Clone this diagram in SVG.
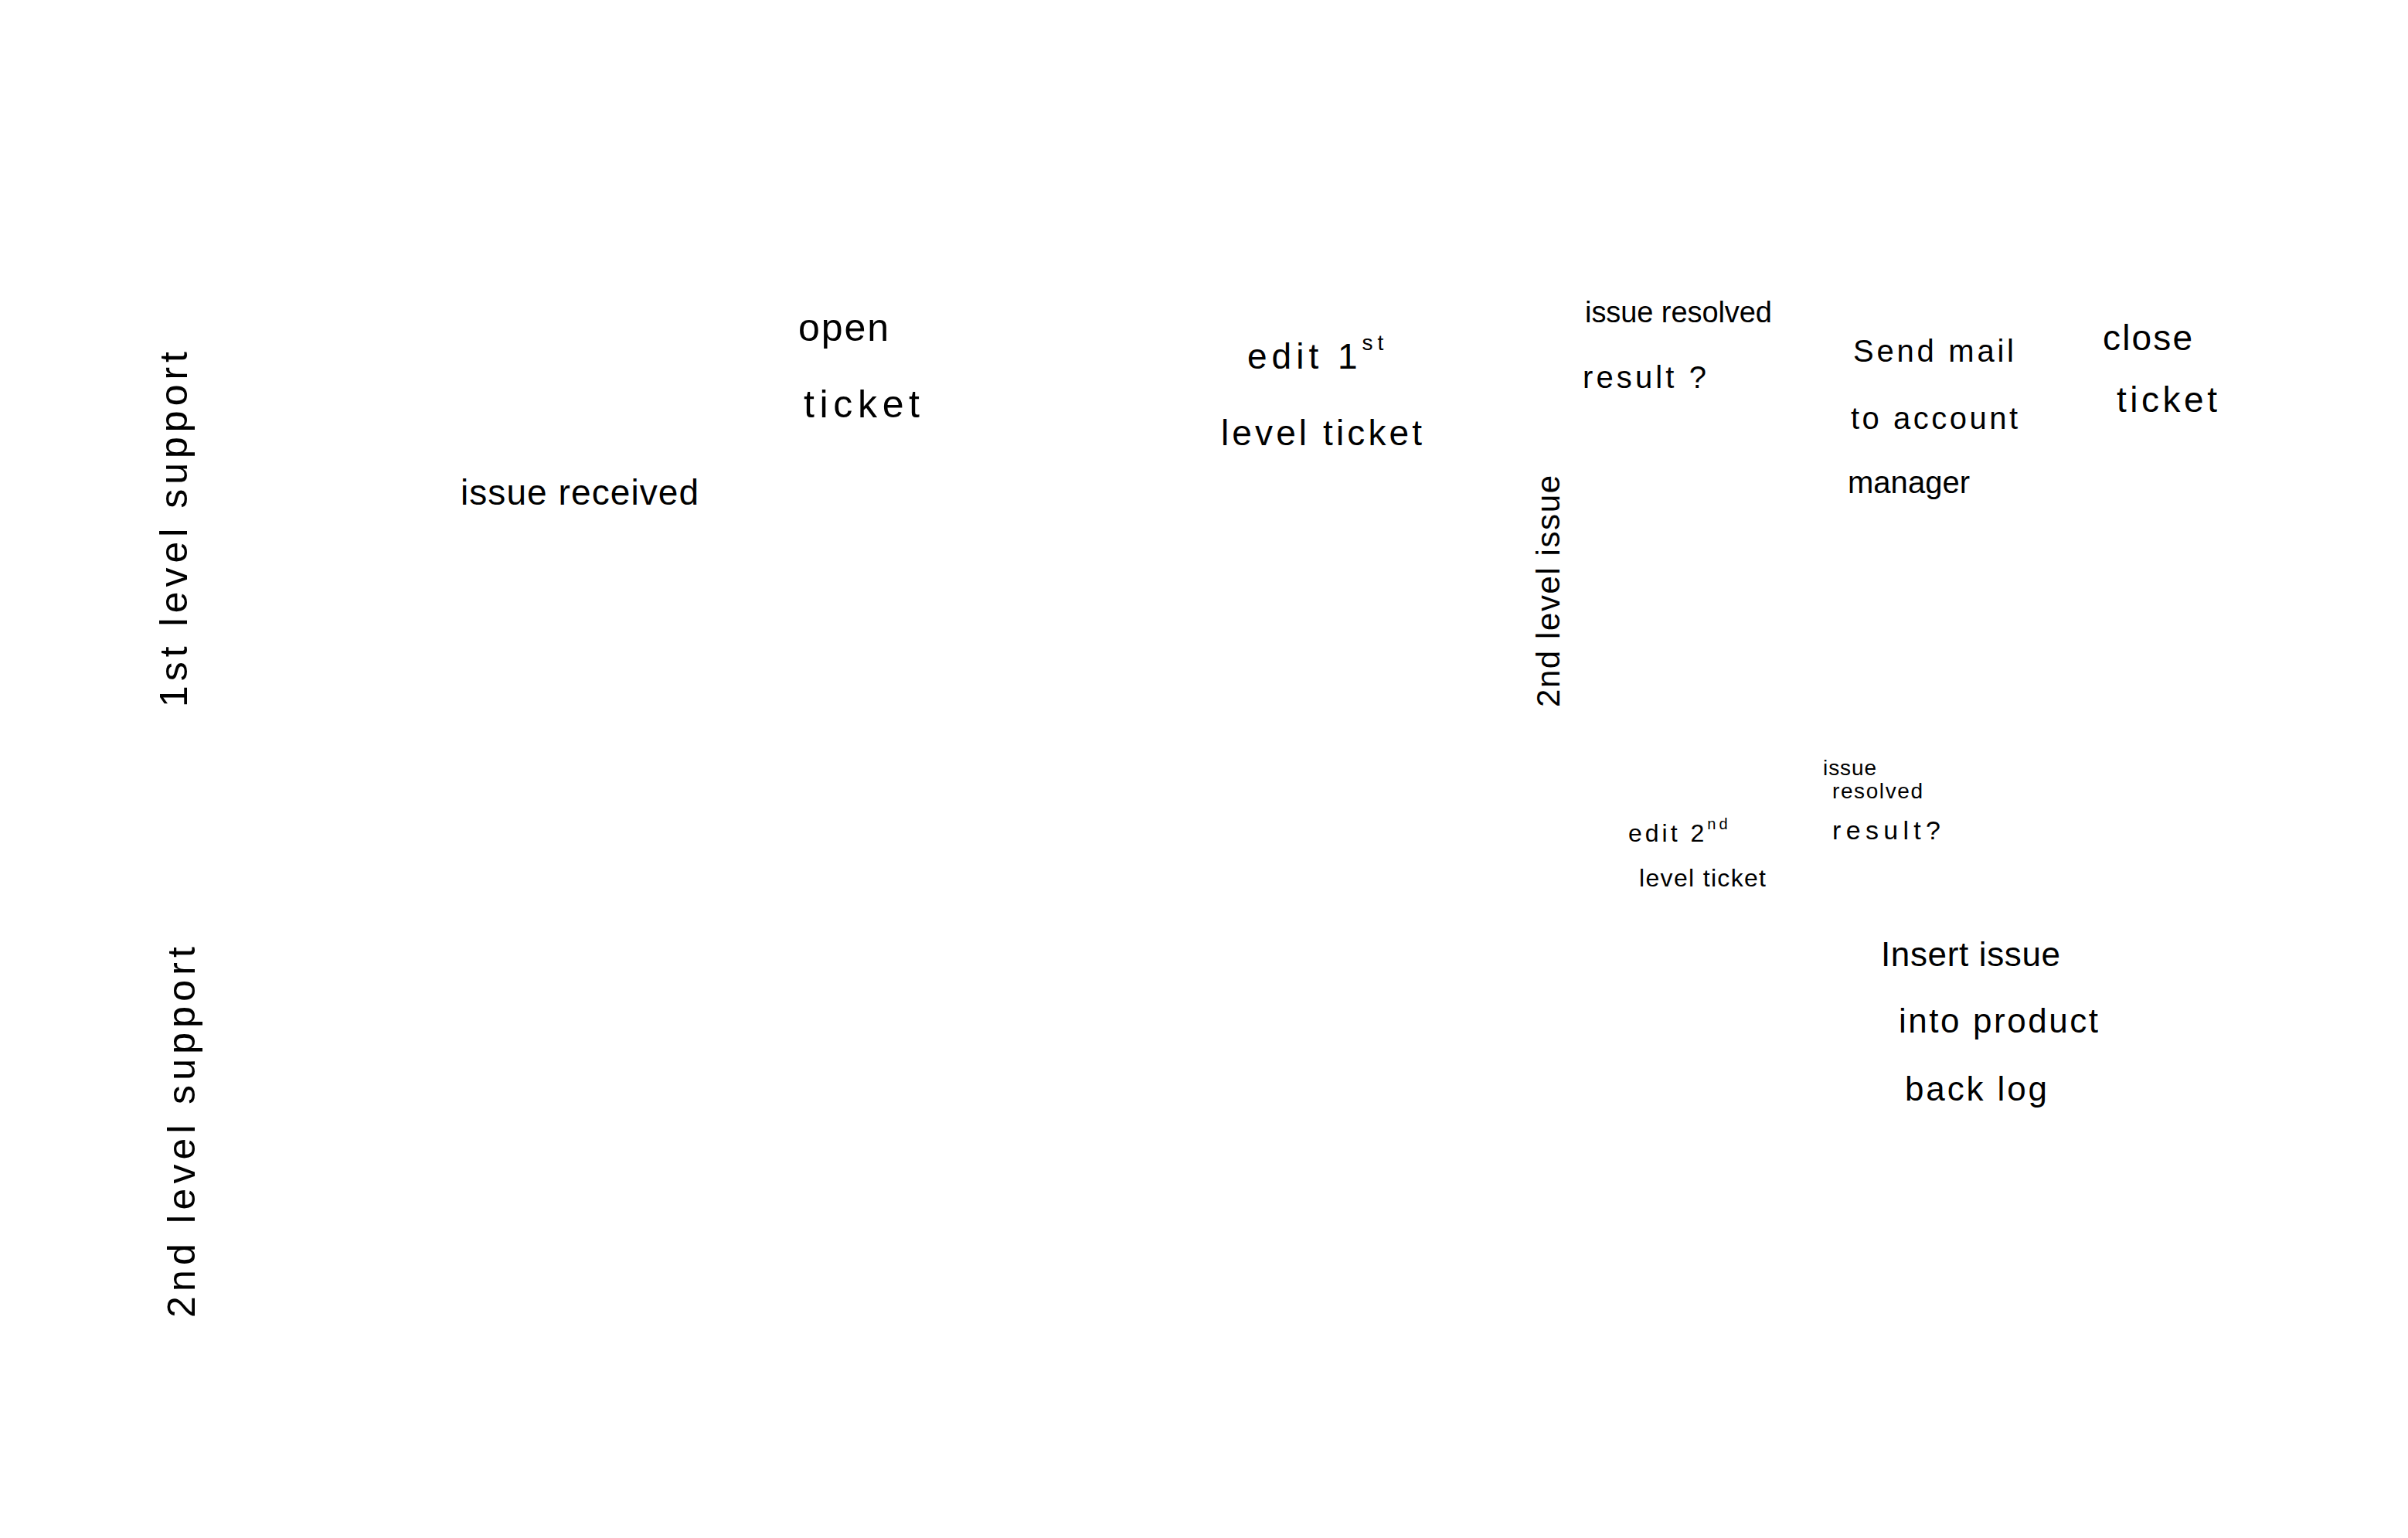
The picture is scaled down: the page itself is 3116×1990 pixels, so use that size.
<svg xmlns="http://www.w3.org/2000/svg" width="3116" height="1990" viewBox="0 0 3116 1990">
<style>
.t{font-family:"Liberation Sans",Arial,sans-serif;fill:#000;}
</style>
<rect x="0" y="0" width="3116" height="1990" fill="#fff"/>
<g id="lane-1st-level-support">
<text class="t" font-size="50" transform="translate(242,915) rotate(-90)" textLength="460" lengthAdjust="spacing">1st level support</text>
</g>
<g id="lane-2nd-level-support">
<text class="t" font-size="50" transform="translate(252,1705) rotate(-90)" textLength="480" lengthAdjust="spacing">2nd level support</text>
</g>
<g id="issue-received">
<text class="t" font-size="46" x="596" y="653" textLength="308" lengthAdjust="spacing">issue received</text>
</g>
<g id="open-ticket">
<text class="t" font-size="50" x="1033" y="441" textLength="117" lengthAdjust="spacing">open</text>
<text class="t" font-size="50" x="1040" y="540" textLength="150" lengthAdjust="spacing">ticket</text>
</g>
<g id="edit-1st-level-ticket">
<text class="t" font-size="46" x="1614" y="477" letter-spacing="6">edit 1<tspan font-size="28" dy="-24">st</tspan></text>
<text class="t" font-size="46" x="1580" y="576" textLength="260" lengthAdjust="spacing">level ticket</text>
</g>
<g id="issue-resolved-1">
<text class="t" font-size="38" x="2051" y="417" textLength="242" lengthAdjust="spacing">issue resolved</text>
<text class="t" font-size="40" x="2048" y="502" textLength="160" lengthAdjust="spacing">result ?</text>
</g>
<g id="2nd-level-issue">
<text class="t" font-size="42" transform="translate(2018,915) rotate(-90)" textLength="300" lengthAdjust="spacing">2nd level issue</text>
</g>
<g id="send-mail">
<text class="t" font-size="40" x="2398" y="468" textLength="208" lengthAdjust="spacing">Send mail</text>
<text class="t" font-size="40" x="2395" y="555" textLength="216" lengthAdjust="spacing">to account</text>
<text class="t" font-size="40" x="2391" y="638" textLength="158" lengthAdjust="spacing">manager</text>
</g>
<g id="close-ticket">
<text class="t" font-size="46" x="2721" y="453" textLength="116" lengthAdjust="spacing">close</text>
<text class="t" font-size="46" x="2739" y="533" textLength="130" lengthAdjust="spacing">ticket</text>
</g>
<g id="edit-2nd-level-ticket">
<text class="t" font-size="32" x="2107" y="1089" letter-spacing="4">edit 2<tspan font-size="20" dy="-16">nd</tspan></text>
<text class="t" font-size="32" x="2121" y="1147" textLength="164" lengthAdjust="spacing">level ticket</text>
</g>
<g id="issue-resolved-2">
<text class="t" font-size="28" x="2359" y="1003" textLength="69" lengthAdjust="spacing">issue</text>
<text class="t" font-size="28" x="2371" y="1033" textLength="117" lengthAdjust="spacing">resolved</text>
<text class="t" font-size="34" x="2371" y="1086" textLength="140" lengthAdjust="spacing">result?</text>
</g>
<g id="insert-issue">
<text class="t" font-size="44" x="2434" y="1250" textLength="232" lengthAdjust="spacing">Insert issue</text>
<text class="t" font-size="44" x="2457" y="1336" textLength="258" lengthAdjust="spacing">into product</text>
<text class="t" font-size="44" x="2465" y="1424" textLength="184" lengthAdjust="spacing">back log</text>
</g>
<g id="connectors"/>
</svg>
